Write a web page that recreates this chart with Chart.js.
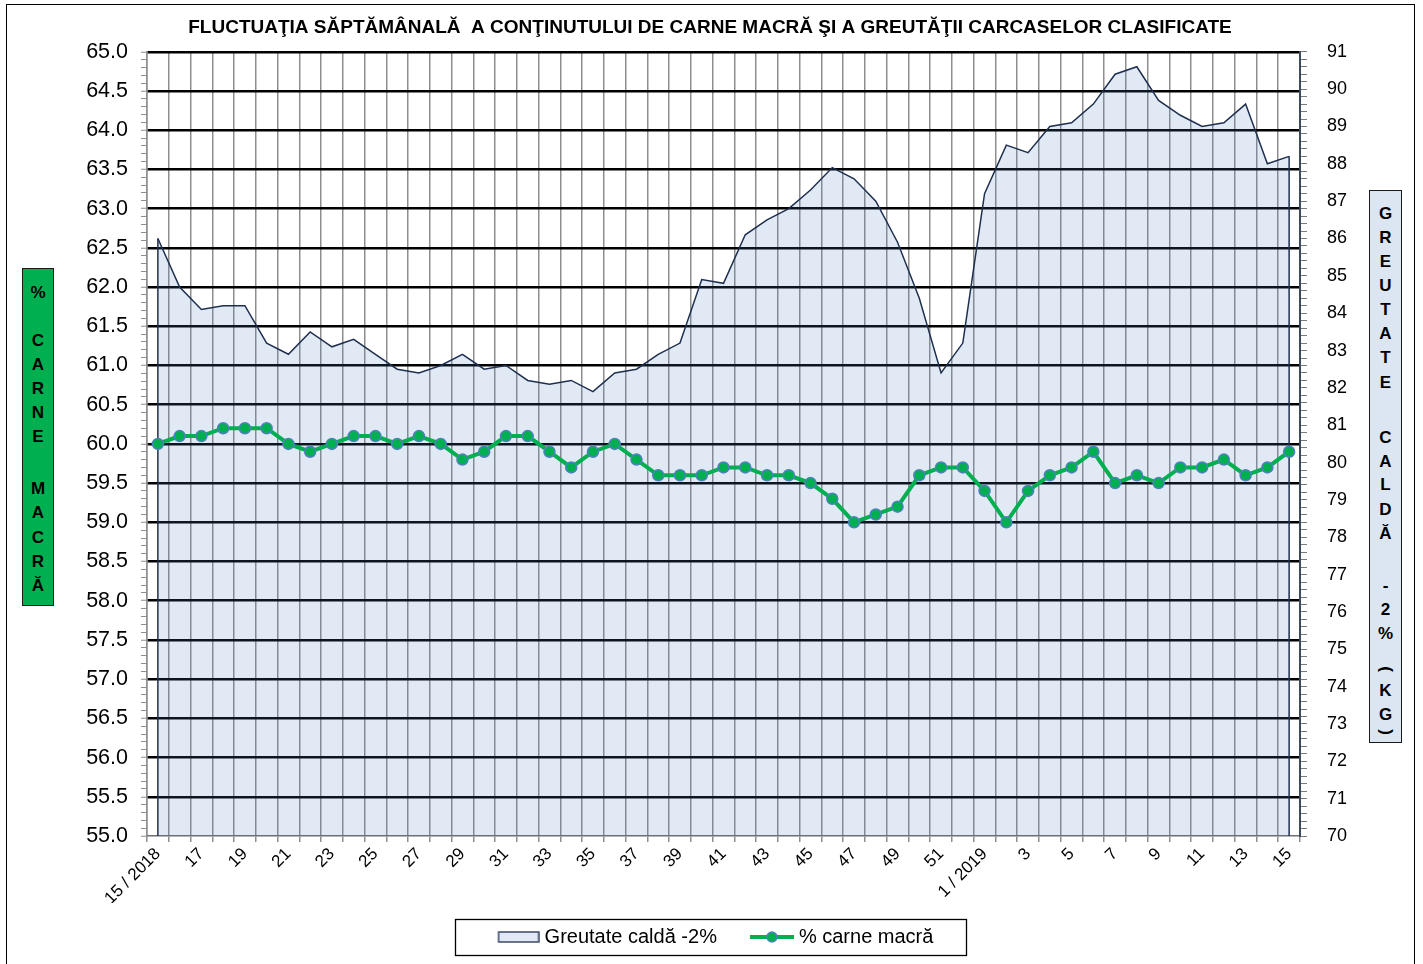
<!DOCTYPE html>
<html>
<head>
<meta charset="utf-8">
<script src="https://cdn.jsdelivr.net/npm/chart.js@4.4.1/dist/chart.umd.min.js"></script>
<style>
html,body{margin:0;padding:0;background:#fff;}
#wrap{position:relative;width:1423px;height:964px;overflow:hidden;font-family:"Liberation Sans",Arial,sans-serif;}
#frame{position:absolute;left:6px;top:4px;width:1409px;height:990px;border:1.5px solid #000;box-sizing:border-box;}
#c{position:absolute;left:0;top:0;}
.vbox{position:absolute;border:1.3px solid #1a1a1a;box-sizing:border-box;}
.vbox span{position:absolute;left:0;width:100%;text-align:center;font-weight:bold;font-size:17px;line-height:20px;height:20px;margin-top:-10px;color:#000;}
.rot{display:inline-block;transform:rotate(90deg);}
</style>
</head>
<body>
<div id="wrap">
  <div id="frame"></div>
  <canvas id="c" width="1423" height="964"></canvas>
  <div class="vbox" id="lbox" style="left:22px;top:268px;width:32px;height:338px;background:#00B050;"></div>
  <div class="vbox" id="rbox" style="left:1369px;top:190px;width:33px;height:553px;background:#DCE6F2;"></div>
</div>
<script>
// ---------------- data ----------------
const weeks = ["15 / 2018","16","17","18","19","20","21","22","23","24","25","26","27","28","29","30",
  "31","32","33","34","35","36","37","38","39","40","41","42","43","44","45","46","47","48","49","50",
  "51","52","1 / 2019","2","3","4","5","6","7","8","9","10","11","12","13","14","15"];
const greutateCalda = [86.0,84.7,84.1,84.2,84.2,83.2,82.9,83.5,83.1,83.3,
  82.9,82.5,82.4,82.6,82.9,82.5,82.6,82.2,82.1,82.2,
  81.9,82.4,82.5,82.9,83.2,84.9,84.8,86.1,86.5,86.8,
  87.3,87.9,87.6,87.0,85.9,84.4,82.4,83.2,87.2,88.5,
  88.3,89.0,89.1,89.6,90.4,90.6,89.7,89.3,89.0,89.1,
  89.6,88.0,88.2];
const carneMacra = [60.0,60.1,60.1,60.2,60.2,60.2,60.0,59.9,60.0,60.1,
  60.1,60.0,60.1,60.0,59.8,59.9,60.1,60.1,59.9,59.7,
  59.9,60.0,59.8,59.6,59.6,59.6,59.7,59.7,59.6,59.6,
  59.5,59.3,59.0,59.1,59.2,59.6,59.7,59.7,59.4,59.0,
  59.4,59.6,59.7,59.9,59.5,59.6,59.5,59.7,59.7,59.8,
  59.6,59.7,59.9];
const leftRange = [55, 65];
const rightRange = [70, 91];
const titleText = "FLUCTUAŢIA SĂPTĂMÂNALĂ  A CONŢINUTULUI DE CARNE MACRĂ ŞI A GREUTĂŢII CARCASELOR CLASIFICATE";
const leftTitle = ["%","","C","A","R","N","E","","M","A","C","R","Ă"];
const rightTitle = ["G","R","E","U","T","A","T","E","C","A","L","D","Ă","-","2","%","(","K","G",")"];

// ---------------- side title boxes ----------------
(function(){
  const lb = document.getElementById('lbox');
  const lY = [292,316,340,364,388,412,436,462,488,512,537,561,585];
  leftTitle.forEach((ch,i)=>{ if(!ch) return; const s=document.createElement('span'); s.textContent=ch; s.style.top=(lY[i]-268)+'px'; lb.appendChild(s); });
  const rb = document.getElementById('rbox');
  const rY = [213,237,261,285,309,333,357,382,437,461,484,509,533,585,609,633,668,690,714,731];
  rightTitle.forEach((ch,i)=>{ const s=document.createElement('span'); if(ch==='('||ch===')'){const r=document.createElement('span');r.className='rot';r.style.position='static';r.style.width='auto';r.style.margin='0';r.textContent=ch;s.appendChild(r);} else s.textContent=ch; s.style.top=(rY[i]-190)+'px'; rb.appendChild(s); });
})();

// ---------------- legend symbols (58px wide, drawn in the right part) ----------------
function swatch(){ const c=document.createElement('canvas'); c.width=58; c.height=12; const x=c.getContext('2d');
  x.fillStyle='#E1E9F6'; x.fillRect(17,1,40,10); x.strokeStyle='#3B4A66'; x.lineWidth=1.5; x.strokeRect(17,1,40,10); return c; }
function lineSym(){ const c=document.createElement('canvas'); c.width=58; c.height=14; const x=c.getContext('2d');
  x.strokeStyle='#00B050'; x.lineWidth=4; x.beginPath(); x.moveTo(14,7); x.lineTo(58,7); x.stroke();
  x.beginPath(); x.arc(36,7,5,0,Math.PI*2); x.fillStyle='#00B050'; x.fill(); x.strokeStyle='#4F81BD'; x.lineWidth=1.5; x.stroke(); return c; }
const symArea = swatch(), symLine = lineSym();

const FONT = "'Liberation Sans', Arial, sans-serif";

const edgePlugin = {
  id:'edges',
  afterDatasetDraw(chart, args){
    if(args.index!==1) return;
    const meta = args.meta; const pts = meta.data; const ys = chart.scales.y1;
    const ctx = chart.ctx; ctx.save(); ctx.strokeStyle='#1F2F4F'; ctx.lineWidth=1.5;
    [pts[0], pts[pts.length-1]].forEach(p=>{ ctx.beginPath(); ctx.moveTo(p.x,p.y); ctx.lineTo(p.x, ys.bottom); ctx.stroke(); });
    ctx.restore();
  }
};
const legendBox = {
  id:'legendBox',
  afterDraw(chart){
    const lg = chart.legend; if(!lg || !lg.legendHitBoxes || !lg.legendHitBoxes.length) return;
    const hb = lg.legendHitBoxes;
    const l = Math.min(...hb.map(h=>h.left)), r = Math.max(...hb.map(h=>h.left+h.width));
    const cy = hb[0].top + hb[0].height/2;
    const ctx = chart.ctx; ctx.save(); ctx.strokeStyle='#000'; ctx.lineWidth=1.3;
    ctx.strokeRect(Math.round(l-32)+0.5, Math.round(cy-18)+0.5, Math.round(r-l+64), 36); ctx.restore();
  }
};

const isMajor = v => Math.abs(Math.round(v*10)%5)===0;

new Chart(document.getElementById('c'), {
  type:'line',
  data:{
    labels: weeks,
    datasets:[
      { label:'% carne macră', data: carneMacra, yAxisID:'y', borderColor:'#00B050', borderWidth:4,
        pointRadius:5.5, pointBackgroundColor:'#00B050', pointBorderColor:'#4F81BD', pointBorderWidth:1.5,
        fill:false, tension:0, pointStyle:'circle' },
      { label:'Greutate caldă -2%', data: greutateCalda, yAxisID:'y1', borderColor:'#1F2F4F', borderWidth:1.5,
        backgroundColor:'rgba(79,129,189,0.17)', fill:'start', pointRadius:0, tension:0 }
    ]
  },
  options:{
    responsive:false, animation:false, devicePixelRatio:1,
    layout:{ padding:{ left:60, right:63, top:0, bottom:7 } },
    plugins:{
      title:{ display:true, text:titleText, color:'#000', font:{family:FONT, size:19, weight:'bold'}, padding:{top:16, bottom:13} },
      legend:{ position:'bottom', labels:{ color:'#000', font:{family:FONT, size:20}, usePointStyle:true, pointStyleWidth:48, padding:24,
        sort:(a,b)=>b.datasetIndex-a.datasetIndex,
        generateLabels:(chart)=>{ const items = Chart.defaults.plugins.legend.labels.generateLabels(chart);
          items.forEach(it=>{ it.pointStyle = it.datasetIndex===1 ? symArea : symLine; }); return items; } } },
      tooltip:{ enabled:false }
    },
    scales:{
      x:{ offset:true,
        grid:{ offset:true, color:'#8E8E8E', lineWidth:1.5, tickLength:6, tickColor:'#8E8E8E', drawOnChartArea:true },
        border:{ color:'#6E6E6E', width:1.5 },
        ticks:{ autoSkip:false, maxRotation:45, minRotation:45, color:'#000', font:{family:FONT, size:17}, padding:2,
          callback:(v,i)=> i%2===0 ? weeks[i] : '' },
        afterFit:(s)=>{ s.height = 67; } },
      y:{ position:'left', min:leftRange[0], max:leftRange[1],
        ticks:{ stepSize:0.1, autoSkip:false, color:'#000', font:{family:FONT, size:21.5}, padding:13,
          callback:(v)=> isMajor(v) ? Number(v).toFixed(1) : '' },
        grid:{ color:(c)=> (isMajor(c.tick.value) && Math.abs(c.tick.value-leftRange[0])>1e-6) ? '#000' : 'rgba(0,0,0,0)',
          lineWidth:(c)=> isMajor(c.tick.value) ? 2.5 : 1, tickColor:'#8E8E8E', tickWidth:1, tickLength:6 },
        border:{ color:'#8E8E8E', width:1.5 },
        afterFit:(s)=>{ s.width = 87; } },
      y1:{ position:'right', min:rightRange[0], max:rightRange[1],
        ticks:{ stepSize:0.2, autoSkip:false, color:'#000', font:{family:FONT, size:18}, padding:20,
          callback:(v)=> Math.abs(v-Math.round(v))<1e-6 ? String(Math.round(v)) : '' },
        grid:{ drawOnChartArea:false, tickColor:'#7A7A7A', tickWidth:1, tickLength:7 },
        border:{ color:'#3E4A5E', width:2 },
        afterFit:(s)=>{ s.width = 60; } }
    }
  },
  plugins:[edgePlugin, legendBox]
});
</script>
</body>
</html>
